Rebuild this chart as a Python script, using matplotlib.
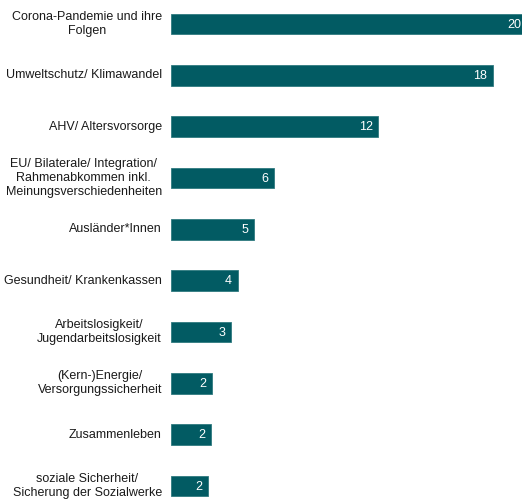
import matplotlib
matplotlib.use("Agg")
import matplotlib.pyplot as plt

plt.rcParams['font.family'] = ['Liberation Sans', 'DejaVu Sans']

categories = [
    "Corona-Pandemie und ihre\nFolgen",
    "Umweltschutz/ Klimawandel",
    "AHV/ Altersvorsorge",
    "EU/ Bilaterale/ Integration/\nRahmenabkommen inkl.\nMeinungsverschiedenheiten",
    "Ausländer*Innen",
    "Gesundheit/ Krankenkassen",
    "Arbeitslosigkeit/\nJugendarbeitslosigkeit",
    "(Kern-)Energie/\nVersorgungssicherheit",
    "Zusammenleben",
    "soziale Sicherheit/\nSicherung der Sozialwerke",
]
values = [19.9, 18.0, 11.6, 5.75, 4.63, 3.73, 3.34, 2.28, 2.22, 2.05]
value_labels = ["20", "18", "12", "6", "5", "4", "3", "2", "2", "2"]

color = "#025b63"

W, H = 522, 499
fig = plt.figure(figsize=(W / 100, H / 100), dpi=100)
px_per_unit = 17.87
x_left = 171
xmax = 25
ax = fig.add_axes([x_left / W, 0, xmax * px_per_unit / W, 1])

spacing = 51.33
first_center = 24.0
top = -first_center / spacing
bottom = top + H / spacing

ypos = list(range(len(categories)))
ax.barh(ypos, values, height=0.4, color=color, edgecolor="#2f7a80", linewidth=0.6)
ax.set_xlim(0, xmax)
ax.set_ylim(bottom, top)

for y, v, lab in zip(ypos, values, value_labels):
    ax.annotate(lab, xy=(v, y), xytext=(-4, -0.5), textcoords="offset points",
                ha="right", va="center", color="white", fontsize=9)

for y, cat in zip(ypos, categories):
    ax.annotate(cat, xy=(0, y), xytext=(-6.5, 0), textcoords="offset points",
                ha="right", va="center", multialignment="center",
                color="#1a1a1a", fontsize=9, linespacing=1.25,
                annotation_clip=False)

ax.set_xticks([])
ax.set_yticks([])
for s in ax.spines.values():
    s.set_visible(False)

fig.savefig("out.png", dpi=100)
